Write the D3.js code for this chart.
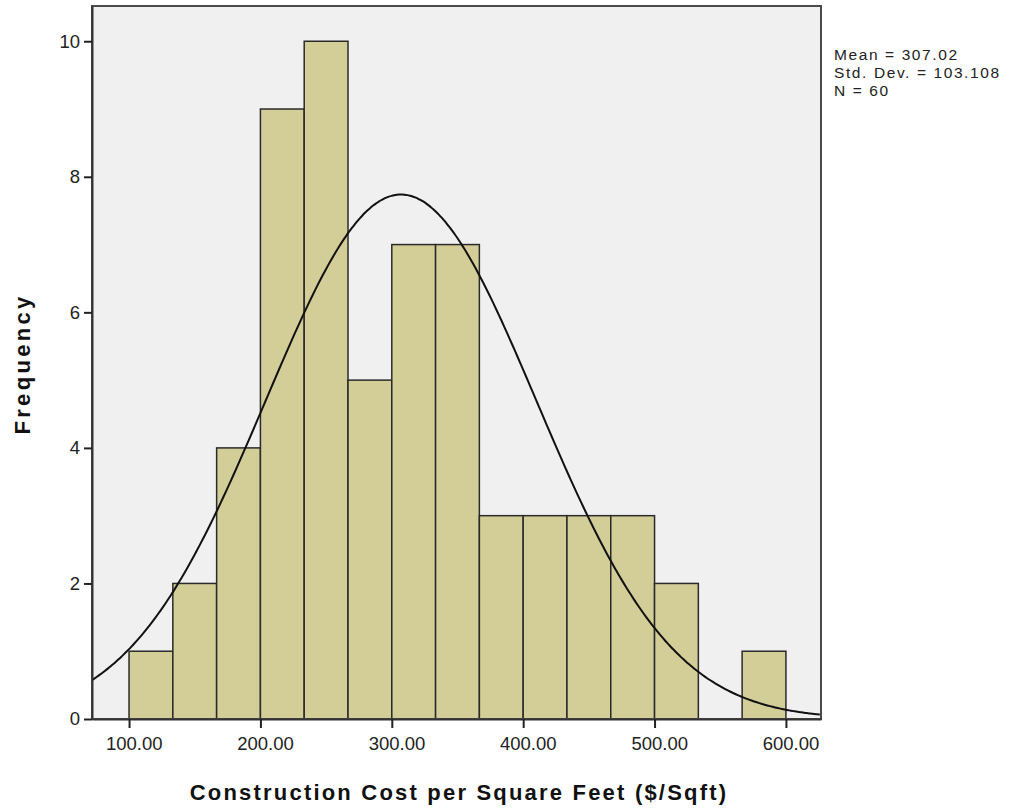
<!DOCTYPE html>
<html><head><meta charset="utf-8">
<script src="https://cdn.jsdelivr.net/npm/d3@7"></script>
<style>body{margin:0;background:#fff;} svg{display:block;}</style>
</head><body>
<svg id="chart" width="1011" height="809"></svg>
<script>
const binStarts = [100, 133.33, 166.67, 200, 233.33, 266.67, 300, 333.33, 366.67, 400, 433.33, 466.67, 500, 533.33, 566.67];
const binWidth = 33.333;
const counts = [1, 2, 4, 9, 10, 5, 7, 7, 3, 3, 3, 3, 2, 0, 1];
const xTicks = [100, 200, 300, 400, 500, 600];
const yTicks = [0, 2, 4, 6, 8, 10];
const mean = 307.02, sd = 103.108, n = 60;
const statsLines = ["Mean = 307.02", "Std. Dev. = 103.108", "N = 60"];

const svg = d3.select("#chart");
const L = 92, R = 821, T = 6, B = 719;
const x = d3.scaleLinear().domain([71.8, 626.7]).range([L, R]);
const y = d3.scaleLinear().domain([0, 10.52]).range([B, T]);
const font = "'Liberation Sans', Arial, sans-serif";

svg.append("rect").attr("x", L).attr("y", T).attr("width", R - L).attr("height", B - T)
  .attr("fill", "#f0f0f0");

svg.append("g").selectAll("rect").data(counts.map((c, i) => ({c, s: binStarts[i]})).filter(d => d.c > 0))
  .join("rect")
  .attr("x", d => x(d.s)).attr("width", d => x(d.s + binWidth) - x(d.s))
  .attr("y", d => y(d.c)).attr("height", d => y(0) - y(d.c))
  .attr("fill", "#d3ce97").attr("stroke", "#2a2a2a").attr("stroke-width", 1.5);

// fitted normal curve
const xs = d3.range(71.8, 626.7, 2);
const pdf = v => n * binWidth / (sd * Math.sqrt(2 * Math.PI)) * Math.exp(-0.5 * ((v - mean) / sd) ** 2);
svg.append("path").datum(xs)
  .attr("d", d3.line().x(d => x(d)).y(d => y(pdf(d))).curve(d3.curveBasis))
  .attr("fill", "none").attr("stroke", "#111").attr("stroke-width", 2);

// frame
svg.append("rect").attr("x", L).attr("y", T).attr("width", R - L).attr("height", B - T)
  .attr("fill", "none").attr("stroke", "#4a4a4a").attr("stroke-width", 2);

const xAxis = svg.append("g").attr("transform", `translate(0,${B})`)
  .call(d3.axisBottom(x).tickValues(xTicks).tickFormat(d3.format(".2f")).tickSize(9).tickSizeOuter(0));
const yAxis = svg.append("g").attr("transform", `translate(${L},0)`)
  .call(d3.axisLeft(y).tickValues(yTicks).tickSize(8).tickSizeOuter(0));
[xAxis, yAxis].forEach(g => {
  g.select(".domain").attr("stroke", "#333").attr("stroke-width", 2);
  g.selectAll(".tick line").attr("stroke", "#222").attr("stroke-width", 2);
  g.selectAll(".tick text").attr("fill", "#222").style("font-family", font).style("font-size", "18.5px");
});
xAxis.selectAll(".tick text").attr("dy", "1.05em").attr("dx", "0.25em");
yAxis.selectAll(".tick text").attr("dx", "-0.05em");

svg.append("text").attr("x", 459).attr("y", 800).attr("text-anchor", "middle")
  .style("font-family", font).style("font-size", "22px").style("font-weight", "bold")
  .style("letter-spacing", "2.2px").attr("fill", "#111")
  .text("Construction Cost per Square Feet ($/Sqft)");
svg.append("text").attr("transform", "translate(30,364) rotate(-90)").attr("text-anchor", "middle")
  .style("font-family", font).style("font-size", "22px").style("font-weight", "bold")
  .style("letter-spacing", "3.3px").attr("fill", "#111")
  .text("Frequency");

svg.append("g").selectAll("text").data(statsLines).join("text")
  .attr("x", 834).attr("y", (d, i) => 60 + i * 18)
  .style("font-family", font).style("font-size", "15.5px").style("letter-spacing", "1.6px")
  .attr("fill", "#222")
  .text(d => d);
</script>
</body></html>
